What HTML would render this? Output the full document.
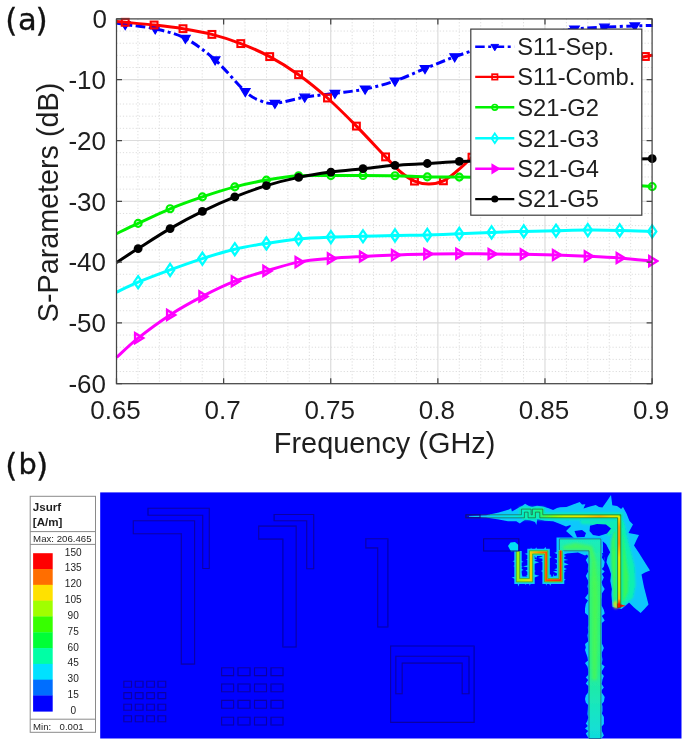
<!DOCTYPE html>
<html lang="en"><head><meta charset="utf-8"><title>S-Parameters and surface current</title>
<style>
html,body{margin:0;padding:0;background:#fff;}
body{width:685px;height:743px;overflow:hidden;position:relative;}
svg{display:block;position:absolute;left:0;top:0;will-change:transform;}
text{font-family:"Liberation Sans",Arial,Helvetica,sans-serif;fill:#1e1e1e;}
.lab{font-family:"DejaVu Sans","Liberation Sans",sans-serif;fill:#111;}
</style></head><body>
<svg width="685" height="743" viewBox="0 0 685 743">
<defs>
<clipPath id="pc"><rect x="115.5" y="12.9" width="543.6" height="376.8"/></clipPath>
<clipPath id="bp"><rect x="100.2" y="492.4" width="581.3" height="246.1"/></clipPath>
<filter id="b1" filterUnits="userSpaceOnUse" x="90" y="480" width="600" height="270"><feGaussianBlur stdDeviation="0.8"/></filter>
<filter id="b2" filterUnits="userSpaceOnUse" x="90" y="480" width="600" height="270"><feGaussianBlur stdDeviation="1.6"/></filter>
<filter id="b3" filterUnits="userSpaceOnUse" x="90" y="480" width="600" height="270"><feGaussianBlur stdDeviation="2.6"/></filter>
<filter id="bs" filterUnits="userSpaceOnUse" x="90" y="480" width="600" height="270"><feGaussianBlur stdDeviation="0.45"/></filter>
</defs>
<rect width="685" height="743" fill="#fff"/>
<g id="plot-a">
<path d="M137.92 18.9V383.7M159.35 18.9V383.7M180.77 18.9V383.7M202.20 18.9V383.7M245.04 18.9V383.7M266.47 18.9V383.7M287.89 18.9V383.7M309.32 18.9V383.7M352.16 18.9V383.7M373.59 18.9V383.7M395.01 18.9V383.7M416.44 18.9V383.7M459.28 18.9V383.7M480.71 18.9V383.7M502.13 18.9V383.7M523.56 18.9V383.7M566.40 18.9V383.7M587.83 18.9V383.7M609.25 18.9V383.7M630.68 18.9V383.7M116.5 31.06H652.1M116.5 43.22H652.1M116.5 55.38H652.1M116.5 67.54H652.1M116.5 91.86H652.1M116.5 104.02H652.1M116.5 116.18H652.1M116.5 128.34H652.1M116.5 152.66H652.1M116.5 164.82H652.1M116.5 176.98H652.1M116.5 189.14H652.1M116.5 213.46H652.1M116.5 225.62H652.1M116.5 237.78H652.1M116.5 249.94H652.1M116.5 274.26H652.1M116.5 286.42H652.1M116.5 298.58H652.1M116.5 310.74H652.1M116.5 335.06H652.1M116.5 347.22H652.1M116.5 359.38H652.1M116.5 371.54H652.1" stroke="#dcdcdc" stroke-width="1" stroke-dasharray="1.2 2.0" fill="none"/>
<path d="M223.62 18.9V383.7M330.74 18.9V383.7M437.86 18.9V383.7M544.98 18.9V383.7M116.5 79.70H652.1M116.5 140.50H652.1M116.5 201.30H652.1M116.5 262.10H652.1M116.5 322.90H652.1" stroke="#dcdcdc" stroke-width="1.2" fill="none"/>
<g clip-path="url(#pc)">
<path d="M116.50 23.00C117.95 23.25 118.75 23.52 125.20 24.50C131.65 25.48 145.17 26.58 155.20 28.90C165.23 31.22 175.42 33.23 185.40 38.40C195.38 43.57 205.12 51.05 215.10 59.90C225.08 68.75 237.82 84.73 245.30 91.50C252.78 98.27 255.07 98.52 260.00 100.50C264.93 102.48 267.45 103.95 274.90 103.40C282.35 102.85 294.70 98.88 304.70 97.20C314.70 95.52 324.83 94.65 334.90 93.30C344.97 91.95 355.08 91.15 365.10 89.10C375.12 87.05 385.02 84.42 395.00 81.00C404.98 77.58 415.05 72.63 425.00 68.60C434.95 64.57 444.75 60.40 454.70 56.80C464.65 53.20 474.72 49.88 484.70 47.00C494.68 44.12 504.62 41.75 514.60 39.50C524.58 37.25 534.62 35.25 544.60 33.50C554.58 31.75 564.52 30.05 574.50 29.00C584.48 27.95 594.45 27.72 604.50 27.20C614.55 26.68 626.77 26.18 634.80 25.90C642.83 25.62 649.72 25.57 652.70 25.50" fill="none" stroke="#0000ff" stroke-width="3.0" stroke-linejoin="round" stroke-dasharray="9.5 3.5 3 3.5"/>
<path d="M120.4 21.5L130.0 21.5L125.2 29.5Z" fill="#0000ff" stroke="#0000ff" stroke-width="1.2" stroke-linejoin="miter"/>
<path d="M150.4 25.9L160.0 25.9L155.2 33.9Z" fill="#0000ff" stroke="#0000ff" stroke-width="1.2" stroke-linejoin="miter"/>
<path d="M180.6 35.4L190.2 35.4L185.4 43.4Z" fill="#0000ff" stroke="#0000ff" stroke-width="1.2" stroke-linejoin="miter"/>
<path d="M210.3 56.9L219.9 56.9L215.1 64.9Z" fill="#0000ff" stroke="#0000ff" stroke-width="1.2" stroke-linejoin="miter"/>
<path d="M240.5 88.5L250.1 88.5L245.3 96.5Z" fill="#0000ff" stroke="#0000ff" stroke-width="1.2" stroke-linejoin="miter"/>
<path d="M270.1 100.4L279.7 100.4L274.9 108.4Z" fill="#0000ff" stroke="#0000ff" stroke-width="1.2" stroke-linejoin="miter"/>
<path d="M299.9 94.2L309.5 94.2L304.7 102.2Z" fill="#0000ff" stroke="#0000ff" stroke-width="1.2" stroke-linejoin="miter"/>
<path d="M330.1 90.3L339.7 90.3L334.9 98.3Z" fill="#0000ff" stroke="#0000ff" stroke-width="1.2" stroke-linejoin="miter"/>
<path d="M360.3 86.1L369.9 86.1L365.1 94.1Z" fill="#0000ff" stroke="#0000ff" stroke-width="1.2" stroke-linejoin="miter"/>
<path d="M390.2 78.0L399.8 78.0L395.0 86.0Z" fill="#0000ff" stroke="#0000ff" stroke-width="1.2" stroke-linejoin="miter"/>
<path d="M420.2 65.6L429.8 65.6L425.0 73.6Z" fill="#0000ff" stroke="#0000ff" stroke-width="1.2" stroke-linejoin="miter"/>
<path d="M449.9 53.8L459.5 53.8L454.7 61.8Z" fill="#0000ff" stroke="#0000ff" stroke-width="1.2" stroke-linejoin="miter"/>
<path d="M479.9 44.0L489.5 44.0L484.7 52.0Z" fill="#0000ff" stroke="#0000ff" stroke-width="1.2" stroke-linejoin="miter"/>
<path d="M509.8 36.5L519.4 36.5L514.6 44.5Z" fill="#0000ff" stroke="#0000ff" stroke-width="1.2" stroke-linejoin="miter"/>
<path d="M539.8 30.5L549.4 30.5L544.6 38.5Z" fill="#0000ff" stroke="#0000ff" stroke-width="1.2" stroke-linejoin="miter"/>
<path d="M569.7 26.0L579.3 26.0L574.5 34.0Z" fill="#0000ff" stroke="#0000ff" stroke-width="1.2" stroke-linejoin="miter"/>
<path d="M599.7 24.2L609.3 24.2L604.5 32.2Z" fill="#0000ff" stroke="#0000ff" stroke-width="1.2" stroke-linejoin="miter"/>
<path d="M630.0 22.9L639.6 22.9L634.8 30.9Z" fill="#0000ff" stroke="#0000ff" stroke-width="1.2" stroke-linejoin="miter"/>
<path d="M116.50 21.50C117.95 21.63 118.93 21.72 125.20 22.30C131.47 22.88 144.47 23.93 154.10 25.00C163.73 26.07 173.37 27.13 183.00 28.70C192.63 30.27 202.27 31.92 211.90 34.40C221.53 36.88 231.17 39.90 240.80 43.60C250.43 47.30 260.07 51.42 269.70 56.60C279.33 61.78 288.97 67.80 298.60 74.70C308.23 81.60 317.87 89.43 327.50 98.00C337.13 106.57 346.72 116.28 356.40 126.10C366.08 135.92 378.33 149.33 385.60 156.90C392.87 164.47 395.18 167.47 400.00 171.50C404.82 175.53 409.68 179.03 414.50 181.10C419.32 183.17 424.08 183.95 428.90 183.90C433.72 183.85 438.72 182.95 443.40 180.80C448.08 178.65 452.23 174.93 457.00 171.00C461.77 167.07 464.68 164.37 472.00 157.20C479.32 150.03 491.27 136.87 500.90 128.00C510.53 119.13 520.17 111.00 529.80 104.00C539.43 97.00 549.07 91.17 558.70 86.00C568.33 80.83 577.97 76.75 587.60 73.00C597.23 69.25 606.87 66.25 616.50 63.50C626.13 60.75 639.37 57.88 645.40 56.50C651.43 55.12 651.48 55.42 652.70 55.20" fill="none" stroke="#ff0000" stroke-width="3.0" stroke-linejoin="round" />
<rect x="121.8" y="18.9" width="6.8" height="6.8" fill="none" stroke="#ff0000" stroke-width="2.1"/>
<rect x="150.7" y="21.6" width="6.8" height="6.8" fill="none" stroke="#ff0000" stroke-width="2.1"/>
<rect x="179.6" y="25.3" width="6.8" height="6.8" fill="none" stroke="#ff0000" stroke-width="2.1"/>
<rect x="208.5" y="31.0" width="6.8" height="6.8" fill="none" stroke="#ff0000" stroke-width="2.1"/>
<rect x="237.4" y="40.2" width="6.8" height="6.8" fill="none" stroke="#ff0000" stroke-width="2.1"/>
<rect x="266.3" y="53.2" width="6.8" height="6.8" fill="none" stroke="#ff0000" stroke-width="2.1"/>
<rect x="295.2" y="71.3" width="6.8" height="6.8" fill="none" stroke="#ff0000" stroke-width="2.1"/>
<rect x="324.1" y="94.6" width="6.8" height="6.8" fill="none" stroke="#ff0000" stroke-width="2.1"/>
<rect x="353.0" y="122.7" width="6.8" height="6.8" fill="none" stroke="#ff0000" stroke-width="2.1"/>
<rect x="382.2" y="153.5" width="6.8" height="6.8" fill="none" stroke="#ff0000" stroke-width="2.1"/>
<rect x="411.1" y="177.7" width="6.8" height="6.8" fill="none" stroke="#ff0000" stroke-width="2.1"/>
<rect x="440.0" y="177.4" width="6.8" height="6.8" fill="none" stroke="#ff0000" stroke-width="2.1"/>
<rect x="468.6" y="153.8" width="6.8" height="6.8" fill="none" stroke="#ff0000" stroke-width="2.1"/>
<rect x="497.5" y="124.6" width="6.8" height="6.8" fill="none" stroke="#ff0000" stroke-width="2.1"/>
<rect x="526.4" y="100.6" width="6.8" height="6.8" fill="none" stroke="#ff0000" stroke-width="2.1"/>
<rect x="555.3" y="82.6" width="6.8" height="6.8" fill="none" stroke="#ff0000" stroke-width="2.1"/>
<rect x="584.2" y="69.6" width="6.8" height="6.8" fill="none" stroke="#ff0000" stroke-width="2.1"/>
<rect x="613.1" y="60.1" width="6.8" height="6.8" fill="none" stroke="#ff0000" stroke-width="2.1"/>
<rect x="642.0" y="53.1" width="6.8" height="6.8" fill="none" stroke="#ff0000" stroke-width="2.1"/>
<path d="M116.50 233.60C120.10 231.90 129.17 227.53 138.10 223.40C147.03 219.27 159.38 213.22 170.10 208.80C180.82 204.38 191.62 200.55 202.40 196.90C213.18 193.25 224.13 189.70 234.80 186.90C245.47 184.10 255.77 181.95 266.40 180.10C277.03 178.25 287.85 176.55 298.60 175.80C309.35 175.05 320.17 175.65 330.90 175.60C341.63 175.55 352.32 175.47 363.00 175.50C373.68 175.53 384.28 175.57 395.00 175.80C405.72 176.03 416.58 176.68 427.30 176.90C438.02 177.12 448.58 176.92 459.30 177.10C470.02 177.28 480.85 177.65 491.60 178.00C502.35 178.35 513.07 178.75 523.80 179.20C534.53 179.65 545.33 180.15 556.00 180.70C566.67 181.25 577.18 181.87 587.80 182.50C598.42 183.13 608.97 183.82 619.70 184.50C630.43 185.18 646.78 186.25 652.20 186.60" fill="none" stroke="#00f200" stroke-width="3.0" stroke-linejoin="round" />
<circle cx="138.1" cy="223.4" r="3.5" fill="none" stroke="#00f200" stroke-width="2.1"/>
<circle cx="170.1" cy="208.8" r="3.5" fill="none" stroke="#00f200" stroke-width="2.1"/>
<circle cx="202.4" cy="196.9" r="3.5" fill="none" stroke="#00f200" stroke-width="2.1"/>
<circle cx="234.8" cy="186.9" r="3.5" fill="none" stroke="#00f200" stroke-width="2.1"/>
<circle cx="266.4" cy="180.1" r="3.5" fill="none" stroke="#00f200" stroke-width="2.1"/>
<circle cx="298.6" cy="175.8" r="3.5" fill="none" stroke="#00f200" stroke-width="2.1"/>
<circle cx="330.9" cy="175.6" r="3.5" fill="none" stroke="#00f200" stroke-width="2.1"/>
<circle cx="363.0" cy="175.5" r="3.5" fill="none" stroke="#00f200" stroke-width="2.1"/>
<circle cx="395.0" cy="175.8" r="3.5" fill="none" stroke="#00f200" stroke-width="2.1"/>
<circle cx="427.3" cy="176.9" r="3.5" fill="none" stroke="#00f200" stroke-width="2.1"/>
<circle cx="459.3" cy="177.1" r="3.5" fill="none" stroke="#00f200" stroke-width="2.1"/>
<circle cx="491.6" cy="178.0" r="3.5" fill="none" stroke="#00f200" stroke-width="2.1"/>
<circle cx="523.8" cy="179.2" r="3.5" fill="none" stroke="#00f200" stroke-width="2.1"/>
<circle cx="556.0" cy="180.7" r="3.5" fill="none" stroke="#00f200" stroke-width="2.1"/>
<circle cx="587.8" cy="182.5" r="3.5" fill="none" stroke="#00f200" stroke-width="2.1"/>
<circle cx="619.7" cy="184.5" r="3.5" fill="none" stroke="#00f200" stroke-width="2.1"/>
<circle cx="652.2" cy="186.6" r="3.5" fill="none" stroke="#00f200" stroke-width="2.1"/>
<path d="M116.50 292.20C120.10 290.53 129.17 285.92 138.10 282.20C147.03 278.48 159.38 273.83 170.10 269.90C180.82 265.97 191.62 262.05 202.40 258.60C213.18 255.15 224.13 251.73 234.80 249.20C245.47 246.67 255.77 245.10 266.40 243.40C277.03 241.70 287.85 240.05 298.60 239.00C309.35 237.95 320.17 237.55 330.90 237.10C341.63 236.65 352.32 236.58 363.00 236.30C373.68 236.02 384.28 235.63 395.00 235.40C405.72 235.17 416.58 235.17 427.30 234.90C438.02 234.63 448.58 234.22 459.30 233.80C470.02 233.38 480.85 232.80 491.60 232.40C502.35 232.00 513.07 231.68 523.80 231.40C534.53 231.12 545.33 230.92 556.00 230.70C566.67 230.48 577.18 230.15 587.80 230.10C598.42 230.05 608.97 230.18 619.70 230.40C630.43 230.62 646.78 231.23 652.20 231.40" fill="none" stroke="#00ffff" stroke-width="3.0" stroke-linejoin="round" />
<path d="M138.1 276.2L142.2 282.2L138.1 288.2L134.0 282.2Z" fill="none" stroke="#00ffff" stroke-width="2.3"/>
<path d="M170.1 263.9L174.2 269.9L170.1 275.9L166.0 269.9Z" fill="none" stroke="#00ffff" stroke-width="2.3"/>
<path d="M202.4 252.6L206.5 258.6L202.4 264.6L198.3 258.6Z" fill="none" stroke="#00ffff" stroke-width="2.3"/>
<path d="M234.8 243.2L238.9 249.2L234.8 255.2L230.7 249.2Z" fill="none" stroke="#00ffff" stroke-width="2.3"/>
<path d="M266.4 237.4L270.5 243.4L266.4 249.4L262.3 243.4Z" fill="none" stroke="#00ffff" stroke-width="2.3"/>
<path d="M298.6 233.0L302.7 239.0L298.6 245.0L294.5 239.0Z" fill="none" stroke="#00ffff" stroke-width="2.3"/>
<path d="M330.9 231.1L335.0 237.1L330.9 243.1L326.8 237.1Z" fill="none" stroke="#00ffff" stroke-width="2.3"/>
<path d="M363.0 230.3L367.1 236.3L363.0 242.3L358.9 236.3Z" fill="none" stroke="#00ffff" stroke-width="2.3"/>
<path d="M395.0 229.4L399.1 235.4L395.0 241.4L390.9 235.4Z" fill="none" stroke="#00ffff" stroke-width="2.3"/>
<path d="M427.3 228.9L431.4 234.9L427.3 240.9L423.2 234.9Z" fill="none" stroke="#00ffff" stroke-width="2.3"/>
<path d="M459.3 227.8L463.4 233.8L459.3 239.8L455.2 233.8Z" fill="none" stroke="#00ffff" stroke-width="2.3"/>
<path d="M491.6 226.4L495.7 232.4L491.6 238.4L487.5 232.4Z" fill="none" stroke="#00ffff" stroke-width="2.3"/>
<path d="M523.8 225.4L527.9 231.4L523.8 237.4L519.7 231.4Z" fill="none" stroke="#00ffff" stroke-width="2.3"/>
<path d="M556.0 224.7L560.1 230.7L556.0 236.7L551.9 230.7Z" fill="none" stroke="#00ffff" stroke-width="2.3"/>
<path d="M587.8 224.1L591.9 230.1L587.8 236.1L583.7 230.1Z" fill="none" stroke="#00ffff" stroke-width="2.3"/>
<path d="M619.7 224.4L623.8 230.4L619.7 236.4L615.6 230.4Z" fill="none" stroke="#00ffff" stroke-width="2.3"/>
<path d="M652.2 225.4L656.3 231.4L652.2 237.4L648.1 231.4Z" fill="none" stroke="#00ffff" stroke-width="2.3"/>
<path d="M116.50 357.50C120.10 354.27 129.17 345.20 138.10 338.10C147.03 331.00 159.38 321.85 170.10 314.90C180.82 307.95 191.62 302.02 202.40 296.40C213.18 290.78 224.13 285.45 234.80 281.20C245.47 276.95 255.77 274.08 266.40 270.90C277.03 267.72 287.85 264.18 298.60 262.10C309.35 260.02 320.17 259.33 330.90 258.40C341.63 257.47 352.32 257.05 363.00 256.50C373.68 255.95 384.28 255.52 395.00 255.10C405.72 254.68 416.58 254.23 427.30 254.00C438.02 253.77 448.58 253.70 459.30 253.70C470.02 253.70 480.85 253.90 491.60 254.00C502.35 254.10 513.07 254.13 523.80 254.30C534.53 254.47 545.33 254.68 556.00 255.00C566.67 255.32 577.18 255.70 587.80 256.20C598.42 256.70 608.97 257.18 619.70 258.00C630.43 258.82 646.78 260.58 652.20 261.10" fill="none" stroke="#ff00ff" stroke-width="3.0" stroke-linejoin="round" />
<path d="M135.1 333.2L135.1 343.0L143.2 338.1Z" fill="none" stroke="#ff00ff" stroke-width="2.4" stroke-linejoin="miter"/>
<path d="M167.1 310.0L167.1 319.8L175.2 314.9Z" fill="none" stroke="#ff00ff" stroke-width="2.4" stroke-linejoin="miter"/>
<path d="M199.4 291.5L199.4 301.3L207.5 296.4Z" fill="none" stroke="#ff00ff" stroke-width="2.4" stroke-linejoin="miter"/>
<path d="M231.8 276.3L231.8 286.1L239.9 281.2Z" fill="none" stroke="#ff00ff" stroke-width="2.4" stroke-linejoin="miter"/>
<path d="M263.4 266.0L263.4 275.8L271.5 270.9Z" fill="none" stroke="#ff00ff" stroke-width="2.4" stroke-linejoin="miter"/>
<path d="M295.6 257.2L295.6 267.0L303.7 262.1Z" fill="none" stroke="#ff00ff" stroke-width="2.4" stroke-linejoin="miter"/>
<path d="M327.9 253.5L327.9 263.3L336.0 258.4Z" fill="none" stroke="#ff00ff" stroke-width="2.4" stroke-linejoin="miter"/>
<path d="M360.0 251.6L360.0 261.4L368.1 256.5Z" fill="none" stroke="#ff00ff" stroke-width="2.4" stroke-linejoin="miter"/>
<path d="M392.0 250.2L392.0 260.0L400.1 255.1Z" fill="none" stroke="#ff00ff" stroke-width="2.4" stroke-linejoin="miter"/>
<path d="M424.3 249.1L424.3 258.9L432.4 254.0Z" fill="none" stroke="#ff00ff" stroke-width="2.4" stroke-linejoin="miter"/>
<path d="M456.3 248.8L456.3 258.6L464.4 253.7Z" fill="none" stroke="#ff00ff" stroke-width="2.4" stroke-linejoin="miter"/>
<path d="M488.6 249.1L488.6 258.9L496.7 254.0Z" fill="none" stroke="#ff00ff" stroke-width="2.4" stroke-linejoin="miter"/>
<path d="M520.8 249.4L520.8 259.2L528.9 254.3Z" fill="none" stroke="#ff00ff" stroke-width="2.4" stroke-linejoin="miter"/>
<path d="M553.0 250.1L553.0 259.9L561.1 255.0Z" fill="none" stroke="#ff00ff" stroke-width="2.4" stroke-linejoin="miter"/>
<path d="M584.8 251.3L584.8 261.1L592.9 256.2Z" fill="none" stroke="#ff00ff" stroke-width="2.4" stroke-linejoin="miter"/>
<path d="M616.7 253.1L616.7 262.9L624.8 258.0Z" fill="none" stroke="#ff00ff" stroke-width="2.4" stroke-linejoin="miter"/>
<path d="M649.2 256.2L649.2 266.0L657.3 261.1Z" fill="none" stroke="#ff00ff" stroke-width="2.4" stroke-linejoin="miter"/>
<path d="M116.50 262.50C120.10 260.18 129.17 254.25 138.10 248.60C147.03 242.95 159.38 234.80 170.10 228.60C180.82 222.40 191.62 216.68 202.40 211.40C213.18 206.12 224.13 201.20 234.80 196.90C245.47 192.60 255.77 188.85 266.40 185.60C277.03 182.35 287.85 179.65 298.60 177.40C309.35 175.15 320.17 173.55 330.90 172.10C341.63 170.65 352.32 169.83 363.00 168.70C373.68 167.57 384.28 166.17 395.00 165.30C405.72 164.43 416.58 164.15 427.30 163.50C438.02 162.85 448.58 161.85 459.30 161.40C470.02 160.95 480.85 160.98 491.60 160.80C502.35 160.62 513.07 160.47 523.80 160.30C534.53 160.13 545.33 159.95 556.00 159.80C566.67 159.65 577.18 159.53 587.80 159.40C598.42 159.27 608.97 159.12 619.70 159.00C630.43 158.88 646.78 158.75 652.20 158.70" fill="none" stroke="#000000" stroke-width="3.0" stroke-linejoin="round" />
<circle cx="138.1" cy="248.6" r="4.4" fill="#000000"/>
<circle cx="170.1" cy="228.6" r="4.4" fill="#000000"/>
<circle cx="202.4" cy="211.4" r="4.4" fill="#000000"/>
<circle cx="234.8" cy="196.9" r="4.4" fill="#000000"/>
<circle cx="266.4" cy="185.6" r="4.4" fill="#000000"/>
<circle cx="298.6" cy="177.4" r="4.4" fill="#000000"/>
<circle cx="330.9" cy="172.1" r="4.4" fill="#000000"/>
<circle cx="363.0" cy="168.7" r="4.4" fill="#000000"/>
<circle cx="395.0" cy="165.3" r="4.4" fill="#000000"/>
<circle cx="427.3" cy="163.5" r="4.4" fill="#000000"/>
<circle cx="459.3" cy="161.4" r="4.4" fill="#000000"/>
<circle cx="491.6" cy="160.8" r="4.4" fill="#000000"/>
<circle cx="523.8" cy="160.3" r="4.4" fill="#000000"/>
<circle cx="556.0" cy="159.8" r="4.4" fill="#000000"/>
<circle cx="587.8" cy="159.4" r="4.4" fill="#000000"/>
<circle cx="619.7" cy="159.0" r="4.4" fill="#000000"/>
<circle cx="652.2" cy="158.7" r="4.4" fill="#000000"/>
</g>
<rect x="116.5" y="18.9" width="535.6" height="364.8" fill="none" stroke="#454545" stroke-width="1.25"/>
<path d="M116.50 383.7v-5.5M116.50 18.9v5.5M223.62 383.7v-5.5M223.62 18.9v5.5M330.74 383.7v-5.5M330.74 18.9v5.5M437.86 383.7v-5.5M437.86 18.9v5.5M544.98 383.7v-5.5M544.98 18.9v5.5M652.10 383.7v-5.5M652.10 18.9v5.5M116.5 18.90h5.5M652.1 18.90h-5.5M116.5 79.70h5.5M652.1 79.70h-5.5M116.5 140.50h5.5M652.1 140.50h-5.5M116.5 201.30h5.5M652.1 201.30h-5.5M116.5 262.10h5.5M652.1 262.10h-5.5M116.5 322.90h5.5M652.1 322.90h-5.5M116.5 383.70h5.5M652.1 383.70h-5.5" stroke="#454545" stroke-width="1.25" fill="none"/>
<text x="107.0" y="28.2" font-size="26.0" text-anchor="end">0</text>
<text x="106.0" y="89.0" font-size="26.0" text-anchor="end">-10</text>
<text x="106.0" y="149.8" font-size="26.0" text-anchor="end">-20</text>
<text x="106.0" y="210.6" font-size="26.0" text-anchor="end">-30</text>
<text x="106.0" y="271.4" font-size="26.0" text-anchor="end">-40</text>
<text x="106.0" y="332.2" font-size="26.0" text-anchor="end">-50</text>
<text x="106.0" y="393.0" font-size="26.0" text-anchor="end">-60</text>
<text x="115.5" y="419.2" font-size="26.0" text-anchor="middle">0.65</text>
<text x="222.6" y="419.2" font-size="26.0" text-anchor="middle">0.7</text>
<text x="329.7" y="419.2" font-size="26.0" text-anchor="middle">0.75</text>
<text x="436.9" y="419.2" font-size="26.0" text-anchor="middle">0.8</text>
<text x="544.0" y="419.2" font-size="26.0" text-anchor="middle">0.85</text>
<text x="651.1" y="419.2" font-size="26.0" text-anchor="middle">0.9</text>
<text x="384.6" y="452.6" font-size="29" text-anchor="middle" textLength="221.5" lengthAdjust="spacingAndGlyphs">Frequency (GHz)</text>
<text transform="translate(58.2,202.5) rotate(-90)" font-size="29.8" text-anchor="middle" textLength="239.5" lengthAdjust="spacingAndGlyphs">S-Parameters (dB)</text>
<rect x="470.8" y="29.1" width="171.0" height="186.1" fill="#fff" stroke="#3c3c3c" stroke-width="1.2"/>
<path d="M475.2 46.8H514.3" stroke="#0000ff" stroke-width="2.4" fill="none" stroke-dasharray="9.5 3.5 3 3.5"/>
<g transform="translate(494.8 46.8) scale(0.8) translate(-494.8 -46.8)"><path d="M490.0 43.8L499.6 43.8L494.8 51.8Z" fill="#0000ff" stroke="#0000ff" stroke-width="1.2" stroke-linejoin="miter"/></g>
<text x="517.3" y="55.1" font-size="23.7" fill="#111">S11-Sep.</text>
<path d="M475.2 76.9H514.3" stroke="#ff0000" stroke-width="2.4" fill="none" />
<g transform="translate(494.8 76.9) scale(0.8) translate(-494.8 -76.9)"><rect x="491.4" y="73.5" width="6.8" height="6.8" fill="none" stroke="#ff0000" stroke-width="2.1"/></g>
<text x="517.3" y="85.2" font-size="23.7" fill="#111">S11-Comb.</text>
<path d="M475.2 107.3H514.3" stroke="#00f200" stroke-width="2.4" fill="none" />
<g transform="translate(494.8 107.3) scale(0.8) translate(-494.8 -107.3)"><circle cx="494.8" cy="107.3" r="3.5" fill="none" stroke="#00f200" stroke-width="2.1"/></g>
<text x="517.3" y="115.6" font-size="23.7" fill="#111">S21-G2</text>
<path d="M475.2 138.2H514.3" stroke="#00ffff" stroke-width="2.4" fill="none" />
<g transform="translate(494.8 138.2) scale(0.8) translate(-494.8 -138.2)"><path d="M494.8 132.2L498.9 138.2L494.8 144.2L490.7 138.2Z" fill="none" stroke="#00ffff" stroke-width="2.3"/></g>
<text x="517.3" y="146.5" font-size="23.7" fill="#111">S21-G3</text>
<path d="M475.2 168.8H514.3" stroke="#ff00ff" stroke-width="2.4" fill="none" />
<g transform="translate(494.8 168.8) scale(0.8) translate(-494.8 -168.8)"><path d="M491.8 163.9L491.8 173.7L499.9 168.8Z" fill="#ff00ff" stroke="#ff00ff" stroke-width="2.4" stroke-linejoin="miter"/></g>
<text x="517.3" y="177.1" font-size="23.7" fill="#111">S21-G4</text>
<path d="M475.2 199.1H514.3" stroke="#000000" stroke-width="2.4" fill="none" />
<g transform="translate(494.8 199.1) scale(0.8) translate(-494.8 -199.1)"><circle cx="494.8" cy="199.1" r="4.4" fill="#000000"/></g>
<text x="517.3" y="207.4" font-size="23.7" fill="#111">S21-G5</text>
</g>
<text class="lab" font-size="30.6" stroke="#111" stroke-width="0.35"><tspan x="5.3" y="30.6" font-size="31.2">(</tspan><tspan x="18.0" y="29.5">a</tspan><tspan x="35.4" y="30.6" font-size="31.2">)</tspan></text>
<text class="lab" font-size="30.6" stroke="#111" stroke-width="0.35"><tspan x="5.3" y="475.5" font-size="31.2">(</tspan><tspan x="18.5" y="474.3" font-size="28.8">b</tspan><tspan x="36.1" y="475.5" font-size="31.2">)</tspan></text>
<g id="panel-b">
<rect x="30.2" y="496.3" width="65.3" height="236" fill="#fff" stroke="#8a8a8a" stroke-width="1"/>
<path d="M30.2 531.6H95.5M30.2 544.4H95.5M30.2 719.2H95.5" stroke="#8a8a8a" stroke-width="1" fill="none"/>
<text x="32.8" y="511.4" font-size="11.6" font-weight="bold" fill="#000">Jsurf</text>
<text x="32.8" y="525.9" font-size="11.6" font-weight="bold" fill="#000">[A/m]</text>
<text x="33.1" y="541.6" font-size="9.6" fill="#222" textLength="58.5" lengthAdjust="spacingAndGlyphs">Max: 206.465</text>
<text x="33.1" y="729.6" font-size="9.6" fill="#222">Min:</text>
<text x="59.6" y="729.6" font-size="9.6" fill="#222">0.001</text>
<rect x="33.1" y="553.20" width="19.6" height="16.11" fill="#ff0000"/>
<rect x="33.1" y="569.01" width="19.6" height="16.11" fill="#ff6e00"/>
<rect x="33.1" y="584.82" width="19.6" height="16.11" fill="#ffe100"/>
<rect x="33.1" y="600.63" width="19.6" height="16.11" fill="#a0ff00"/>
<rect x="33.1" y="616.44" width="19.6" height="16.11" fill="#37ff00"/>
<rect x="33.1" y="632.25" width="19.6" height="16.11" fill="#00ff37"/>
<rect x="33.1" y="648.06" width="19.6" height="16.11" fill="#00ffa5"/>
<rect x="33.1" y="663.87" width="19.6" height="16.11" fill="#00e1ff"/>
<rect x="33.1" y="679.68" width="19.6" height="16.11" fill="#006eff"/>
<rect x="33.1" y="695.49" width="19.6" height="16.11" fill="#0000ff"/>
<text x="73.2" y="555.6" font-size="10.1" text-anchor="middle" fill="#111">150</text>
<text x="73.2" y="571.4" font-size="10.1" text-anchor="middle" fill="#111">135</text>
<text x="73.2" y="587.2" font-size="10.1" text-anchor="middle" fill="#111">120</text>
<text x="73.2" y="603.0" font-size="10.1" text-anchor="middle" fill="#111">105</text>
<text x="73.2" y="618.8" font-size="10.1" text-anchor="middle" fill="#111">90</text>
<text x="73.2" y="634.6" font-size="10.1" text-anchor="middle" fill="#111">75</text>
<text x="73.2" y="650.5" font-size="10.1" text-anchor="middle" fill="#111">60</text>
<text x="73.2" y="666.3" font-size="10.1" text-anchor="middle" fill="#111">45</text>
<text x="73.2" y="682.1" font-size="10.1" text-anchor="middle" fill="#111">30</text>
<text x="73.2" y="697.9" font-size="10.1" text-anchor="middle" fill="#111">15</text>
<text x="73.2" y="713.7" font-size="10.1" text-anchor="middle" fill="#111">0</text>
<rect x="100.2" y="492.4" width="581.3" height="246.1" fill="#0000ff"/>
<g clip-path="url(#bp)"><g filter="url(#bs)">
<path d="M133.3 520.8L194.6 520.8L194.6 664.1L181.3 664.1L181.3 533.8L133.3 533.8ZM148.0 508.2L209.3 508.2L209.3 568.5L202.7 568.5L202.7 515.2L148.0 515.2ZM258.7 526.1L296.2 526.1L296.2 647.0L282.9 647.0L282.9 539.1L258.7 539.1ZM274.1 514.5L313.7 514.5L313.7 568.8L306.7 568.8L306.7 520.8L274.1 520.8ZM123.8 681.3h7.7v6.0h-7.7ZM123.8 692.6h7.7v6.0h-7.7ZM123.8 704.3h7.7v6.0h-7.7ZM123.8 715.8h7.7v6.0h-7.7ZM135.3 681.3h7.7v6.0h-7.7ZM135.3 692.6h7.7v6.0h-7.7ZM135.3 704.3h7.7v6.0h-7.7ZM135.3 715.8h7.7v6.0h-7.7ZM146.7 681.3h7.7v6.0h-7.7ZM146.7 692.6h7.7v6.0h-7.7ZM146.7 704.3h7.7v6.0h-7.7ZM146.7 715.8h7.7v6.0h-7.7ZM158.0 681.3h7.7v6.0h-7.7ZM158.0 692.6h7.7v6.0h-7.7ZM158.0 704.3h7.7v6.0h-7.7ZM158.0 715.8h7.7v6.0h-7.7ZM221.6 667.8h12.0v7.8h-12.0ZM221.6 684.0h12.0v7.8h-12.0ZM221.6 700.4h12.0v7.8h-12.0ZM221.6 717.2h12.0v7.8h-12.0ZM238.0 667.8h12.0v7.8h-12.0ZM238.0 684.0h12.0v7.8h-12.0ZM238.0 700.4h12.0v7.8h-12.0ZM238.0 717.2h12.0v7.8h-12.0ZM254.5 667.8h12.0v7.8h-12.0ZM254.5 684.0h12.0v7.8h-12.0ZM254.5 700.4h12.0v7.8h-12.0ZM254.5 717.2h12.0v7.8h-12.0ZM271.0 667.8h12.0v7.8h-12.0ZM271.0 684.0h12.0v7.8h-12.0ZM271.0 700.4h12.0v7.8h-12.0ZM271.0 717.2h12.0v7.8h-12.0ZM365.8 538.7L387.9 538.7L387.9 627.0L377.7 627.0L377.7 547.9L365.8 547.9ZM390.6 646.0h83.5v76.4h-83.5ZM395.8 656.3L469.0 656.3L469.0 693.7L462.2 693.7L462.2 663.1L402.2 663.1L402.2 693.7L395.8 693.7Z" fill="none" stroke="#0c008c" stroke-width="1.1" opacity="0.8"/>
<filter id="b0" filterUnits="userSpaceOnUse" x="90" y="480" width="600" height="270"><feGaussianBlur stdDeviation="0.55"/></filter>
<path d="M469.0 516.0L486.0 515.2L498.8 512.6L509.0 509.6L511.1 508.3L511.9 511.6L519.0 507.5L522.4 505.7L525.1 503.8L529.0 506.0L532.1 507.0L537.0 505.8L542.6 506.4L548.0 508.0L553.1 509.9L557.0 508.0L560.1 507.3L566.4 507.1L573.0 504.5L579.7 502.0L582.0 504.4L585.4 504.2L583.5 508.6L590.0 506.5L595.8 505.0L599.0 507.0L602.4 507.6L607.0 501.0L611.0 494.9L612.3 505.2L617.0 506.0L620.5 508.5L624.5 512.0L624.5 520.0L615.0 521.0L600.0 524.5L590.0 521.5L575.0 523.5L566.0 526.5L560.1 523.9L553.1 521.3L545.0 520.8L537.3 519.0L536.4 525.0L535.0 522.0L530.0 520.2L525.1 519.8L519.8 523.6L516.3 521.3L508.0 521.3L498.8 519.5L486.0 517.5L469.0 516.7Z" fill="#0cc8fc" filter="url(#b0)"/>
<path d="M620.0 510.0L623.0 507.0L626.5 513.5L629.5 521.0L633.0 524.5L630.5 529.0L628.5 533.0L634.0 534.0L639.0 535.0L636.5 540.0L634.0 545.5L639.0 553.0L644.0 561.0L650.0 570.5L645.0 572.5L641.5 574.5L644.0 587.0L648.5 604.5L644.5 609.0L640.6 613.0L634.0 607.5L629.0 602.5L625.0 606.0L621.5 609.0L617.0 608.0L617.0 512.0Z" fill="#0cc8fc" filter="url(#b0)"/>
<path d="M620.0 518.0L624.5 523.0L627.0 536.0L630.0 548.0L634.5 566.0L635.5 585.0L633.0 598.0L628.0 602.0L623.5 605.5L620.0 606.0Z" fill="#08f0b0" filter="url(#b1)"/>
<path d="M620.0 526.0L623.5 538.0L626.0 558.0L628.5 576.0L628.0 592.0L624.5 600.0L620.0 603.0Z" fill="#38f65c" filter="url(#b1)"/>
<path d="M566.0 520.5L618.0 519.0L618.0 608.0L612.5 607.0L611.0 590.0L608.0 580.0L605.5 566.0L603.5 551.0L602.0 546.0L601.0 539.0L575.0 539.0L569.5 534.0L566.0 531.0L571.0 526.0Z" fill="#0cc8fc" filter="url(#b0)"/>
<path d="M580.0 520.0L617.0 520.0L617.0 530.0L609.0 536.0L604.0 532.0L600.0 526.0L590.0 524.5L581.0 524.0Z" fill="#08f0b0" filter="url(#b1)" opacity="0.90"/>
<path d="M611.0 541.0L613.0 533.0L617.5 529.0L617.5 604.5L613.5 604.0L612.9 592.0L612.5 580.0L611.0 566.0L610.6 552.0Z" fill="#30f468" filter="url(#b1)"/>
<path d="M614.0 550.0L617.5 545.0L617.5 598.0L615.5 598.0L614.0 575.0Z" fill="#44fa3c" filter="url(#b1)"/>
<path d="M590.0 525.8L597.0 524.0L606.0 524.6L611.0 528.5L607.0 533.5L599.0 536.0L593.0 535.0L589.5 531.0Z" fill="#0000ff" filter="url(#b0)"/>
<path d="M574.5 531.0L582.0 530.0L586.0 533.0L584.5 537.0L577.0 537.5Z" fill="#0000ff" filter="url(#b0)"/>
<path d="M602.4 541.0L606.0 544.0L610.2 552.2L607.6 557.0L606.4 562.3L609.0 568.0L611.0 574.1L610.3 581.0L611.9 589.2L610.4 599.3L612.0 606.0L611.0 611.0L603.0 611.0L604.6 600.0L603.6 590.0L605.0 580.0L603.4 570.0L604.8 560.0L603.1 552.0Z" fill="#0000ff" filter="url(#b0)"/>
<linearGradient id="lg" x1="0" y1="539" x2="0" y2="738" gradientUnits="userSpaceOnUse"><stop offset="0" stop-color="#18ecc0"/><stop offset="0.22" stop-color="#30f478"/><stop offset="0.6" stop-color="#28f088"/><stop offset="0.85" stop-color="#18e6c0"/><stop offset="1" stop-color="#10dcdc"/></linearGradient>
<path d="M589.0 550.6L585.8 552.0L588.2 556.5L585.8 560.0L588.2 564.5L587.8 569.0L588.2 571.5L585.8 576.0L588.0 580.5L588.2 583.0L587.4 586.5L588.2 589.0L588.2 593.5L585.0 598.0L588.0 600.5L585.8 604.0L585.0 608.5L585.0 613.0L588.0 615.5L588.2 618.0L588.2 622.5L588.2 625.0L587.8 627.5L588.2 632.0L587.4 635.5L588.0 639.0L588.0 641.5L585.0 644.0L585.8 647.5L585.0 650.0L585.8 652.5L587.4 657.0L588.0 660.5L585.0 663.0L587.4 666.5L588.0 669.0L588.2 672.5L588.0 675.0L585.8 677.5L588.2 680.0L585.8 683.5L588.2 686.0L588.2 690.5L587.8 693.0L585.8 695.5L585.0 699.0L585.8 702.5L588.0 705.0L587.8 709.5L587.4 714.0L588.2 717.5L587.4 721.0L585.8 723.5L587.8 726.0L585.0 728.5L588.2 731.0L585.8 733.5L587.8 737.0L589.0 738.5L600.9 738.5L601.9 738.0L603.9 735.5L601.9 731.0L601.7 726.5L603.9 724.0L603.9 719.5L603.9 717.0L601.9 713.5L602.5 711.0L602.5 706.5L601.9 704.0L603.9 701.5L604.7 697.0L601.7 692.5L601.9 690.0L603.9 687.5L601.7 684.0L602.5 679.5L603.9 676.0L601.7 673.5L601.9 671.0L604.7 666.5L601.7 664.0L602.5 659.5L601.9 656.0L601.9 652.5L603.9 648.0L601.9 643.5L601.9 640.0L601.9 635.5L601.9 632.0L601.9 627.5L601.9 623.0L604.7 620.5L601.9 616.0L604.7 613.5L603.9 610.0L601.7 605.5L601.7 602.0L601.7 599.5L601.9 597.0L601.9 593.5L604.7 589.0L602.5 585.5L601.7 582.0L603.9 577.5L601.9 574.0L604.7 571.5L601.9 569.0L603.9 566.5L604.7 562.0L601.9 557.5L602.5 555.0L601.9 552.5L601.7 548.0L602.5 545.5L600.9 541.0Z" fill="#0cc8fc" filter="url(#b0)"/>
<path d="M556.5 537.5L602.5 537.5L603.0 553.0L590.0 553.0L585.0 555.5L578.0 552.5L566.0 553.5L556.5 553.5Z" fill="#0cc8fc" filter="url(#b0)"/>
<path d="M559.4 538.9L600.9 538.9L600.9 738.5L589.0 738.5L589.0 550.8L559.4 550.8Z" fill="url(#lg)" filter="url(#b0)"/>
<path d="M563.0 546.0L575.0 543.0L592.0 546.0L596.0 560.0L598.0 600.0L597.0 680.0L592.0 680.0L592.0 600.0L591.5 560.0L588.0 549.5L570.0 549.5L563.0 549.0Z" fill="#50f848" filter="url(#b2)" opacity="0.75"/>
<path d="M559.4 538.9L600.9 538.9L600.9 738.5L589.0 738.5L589.0 550.8L559.4 550.8Z" fill="none" stroke="#285078" stroke-width="0.8" opacity="0.85"/>
<linearGradient id="fg" x1="490" y1="0" x2="619" y2="0" gradientUnits="userSpaceOnUse"><stop offset="0" stop-color="#00d4f8"/><stop offset="0.2" stop-color="#00e8e0"/><stop offset="0.34" stop-color="#10f4a0"/><stop offset="0.5" stop-color="#40ff28"/><stop offset="1" stop-color="#40ff28"/></linearGradient>
<linearGradient id="fy" x1="540" y1="0" x2="619" y2="0" gradientUnits="userSpaceOnUse"><stop offset="0" stop-color="#b4f800" stop-opacity="0"/><stop offset="0.3" stop-color="#c8f400"/><stop offset="0.55" stop-color="#f0e000"/><stop offset="0.75" stop-color="#ffb000"/><stop offset="0.9" stop-color="#f0e000"/><stop offset="1" stop-color="#d0f000"/></linearGradient>
<path d="M522 516.3H522.9V510.6H529.6V516.3H533.9V510.6H541.3V516.3H619.2V607" fill="none" stroke="#08f0b0" stroke-width="7.0" filter="url(#b1)" />
<path d="M490 516.3H522.9V510.6H529.6V516.3H533.9V510.6H541.3V516.3H619.2V607.3" fill="none" stroke="url(#fg)" stroke-width="3.6" filter="url(#b0)" />
<path d="M540 516.3H619.2" fill="none" stroke="url(#fy)" stroke-width="2.2" filter="url(#b0)" />
<linearGradient id="fv" x1="0" y1="516" x2="0" y2="608" gradientUnits="userSpaceOnUse"><stop offset="0" stop-color="#e0f000"/><stop offset="0.12" stop-color="#ff9800"/><stop offset="0.3" stop-color="#ff9000"/><stop offset="0.45" stop-color="#e8e800"/><stop offset="0.8" stop-color="#c0f400"/><stop offset="0.9" stop-color="#ffc000"/><stop offset="0.96" stop-color="#ff1000"/><stop offset="1" stop-color="#ff1000"/></linearGradient>
<path d="M619.2 516.3V607.4" fill="none" stroke="url(#fv)" stroke-width="2.3" filter="url(#b0)" />
<path d="M616.8 603.2L625.5 605.8L616.8 608.4Z" fill="#ff1000" filter="url(#b0)"/>
<path d="M613.0 603.0L617.0 600.0L617.0 609.0L614.0 608.0Z" fill="#ffe000" filter="url(#b1)" opacity="0.80"/>
<path d="M465.9 514.8H521.4V509.1H531.1V514.8H532.4V509.1H542.8V514.8H620.8V607.7H617.6V517.8H539.8V512.1H535.4V517.8H528.1V512.1H524.4V517.8H465.9Z" fill="none" stroke="#2c4430" stroke-width="0.7" opacity="0.85" />
<path d="M465.9 514.8H480V517.8H465.9Z" fill="none" stroke="#0c008c" stroke-width="1.1" opacity="0.90" />
<path d="M518.0 559.1L512.4 561.2L518.0 563.1ZM518.0 559.1L523.6 561.9L518.0 563.1ZM518.0 564.5L513.0 566.0L518.0 567.7ZM518.0 564.5L523.0 567.0L518.0 567.7ZM518.0 567.1L523.6 570.0L518.0 572.3ZM518.0 576.3L511.6 577.6L518.0 580.3ZM518.0 575.7L524.4 578.5L518.0 580.9ZM516.5 580.2L518.5 586.6L520.5 580.2ZM516.9 580.2L517.6 572.0L520.1 580.2ZM519.9 580.2L521.6 572.6L523.1 580.2ZM524.5 580.2L525.6 585.2L528.5 580.2ZM528.1 580.2L529.8 585.8L532.1 580.2ZM528.5 580.2L530.3 572.6L531.7 580.2ZM531.0 581.3L526.0 579.5L531.0 578.1ZM531.0 578.7L539.2 575.7L531.0 573.5ZM531.0 578.7L526.0 575.7L531.0 573.5ZM531.0 572.7L536.0 571.0L531.0 569.5ZM531.0 573.7L525.4 570.4L531.0 568.5ZM531.0 567.7L522.8 566.4L531.0 564.5ZM531.0 565.1L539.2 562.2L531.0 559.9ZM531.0 561.1L537.4 559.7L531.0 557.9ZM531.0 561.1L525.8 559.6L531.0 557.9ZM531.0 556.5L524.6 553.7L531.0 552.5ZM529.9 552.4L531.8 557.6L533.1 552.4ZM529.5 552.4L531.0 547.4L533.5 552.4ZM533.3 552.4L536.1 558.8L538.5 552.4ZM533.3 552.4L536.2 547.2L538.5 552.4ZM542.1 552.4L545.4 546.8L547.3 552.4ZM546.1 550.9L539.7 552.9L546.1 554.9ZM546.1 555.3L537.9 558.0L546.1 559.3ZM546.1 554.7L551.7 557.0L546.1 559.9ZM546.1 560.1L540.9 561.4L546.1 563.3ZM546.1 568.5L540.9 570.9L546.1 573.7ZM546.1 572.9L551.7 575.8L546.1 578.1ZM546.1 577.5L554.3 580.1L546.1 580.7ZM545.0 580.2L546.2 585.8L548.2 580.2ZM544.6 580.2L546.5 575.2L548.6 580.2ZM547.0 580.2L550.4 585.8L552.2 580.2ZM547.6 580.2L550.3 573.8L551.6 580.2ZM552.4 580.2L553.6 573.8L555.6 580.2ZM560.6 582.3L565.8 579.8L560.6 577.1ZM560.6 582.3L553.0 580.3L560.6 577.1ZM560.6 577.7L552.4 576.4L560.6 574.5ZM560.6 574.5L565.8 571.5L560.6 570.5ZM560.6 575.1L553.0 571.6L560.6 569.9ZM560.6 571.5L567.0 568.9L560.6 566.3ZM560.6 570.9L554.2 569.3L560.6 566.9ZM560.6 566.5L568.8 564.4L560.6 561.3ZM560.6 565.9L555.0 563.8L560.6 561.9ZM560.6 561.1L568.2 560.0L560.6 557.9ZM560.6 561.5L554.2 558.5L560.6 557.5ZM560.6 558.5L566.2 556.1L560.6 554.5ZM560.6 556.1L567.0 553.3L560.6 550.9ZM560.6 556.1L554.2 552.7L560.6 550.9Z" fill="#0cc8fc" filter="url(#b0)"/>
<path d="M518.0 551V580.2H531.0V552.4H546.1V580.2H560.6V550.5" fill="none" stroke="#0cc8fc" stroke-width="7.4" filter="url(#b0)" />
<path d="M518.0 551V580.2H531.0V552.4H546.1V580.2H560.6V550.5" fill="none" stroke="#30f870" stroke-width="4.6" filter="url(#b0)" />
<linearGradient id="mg" x1="516" y1="0" x2="562" y2="0" gradientUnits="userSpaceOnUse"><stop offset="0" stop-color="#90f810"/><stop offset="0.12" stop-color="#b0f400"/><stop offset="0.28" stop-color="#f0e000"/><stop offset="0.45" stop-color="#ffa000"/><stop offset="0.7" stop-color="#ff4000"/><stop offset="1" stop-color="#ff2800"/></linearGradient>
<path d="M518.0 551V580.2H531.0V552.4H546.1V580.2H560.6V550.5" fill="none" stroke="#a0f820" stroke-width="2.9" filter="url(#b0)" />
<path d="M518.0 551V580.2H531.0V552.4H546.1V580.2H560.6V550.5" fill="none" stroke="url(#mg)" stroke-width="1.9" filter="url(#b0)" />
<path d="M516.4 551V581.8H532.6V554H544.5V581.8H562.2V551M519.6 551V578.6H529.4V550.8H547.7V578.6H559.0V551" fill="none" stroke="#4c5820" stroke-width="0.6" opacity="0.75" />
<path d="M508.0 546.0L510.5 542.5L515.0 542.0L518.5 545.0L518.5 551.0L511.0 551.5Z" fill="#00e0f4" filter="url(#b0)"/>
<path d="M483.6 538.8H518.8V551.0H483.6Z" fill="none" stroke="#0c008c" stroke-width="1.1" opacity="0.90" />
</g></g>
</g>
</svg>
</body></html>
